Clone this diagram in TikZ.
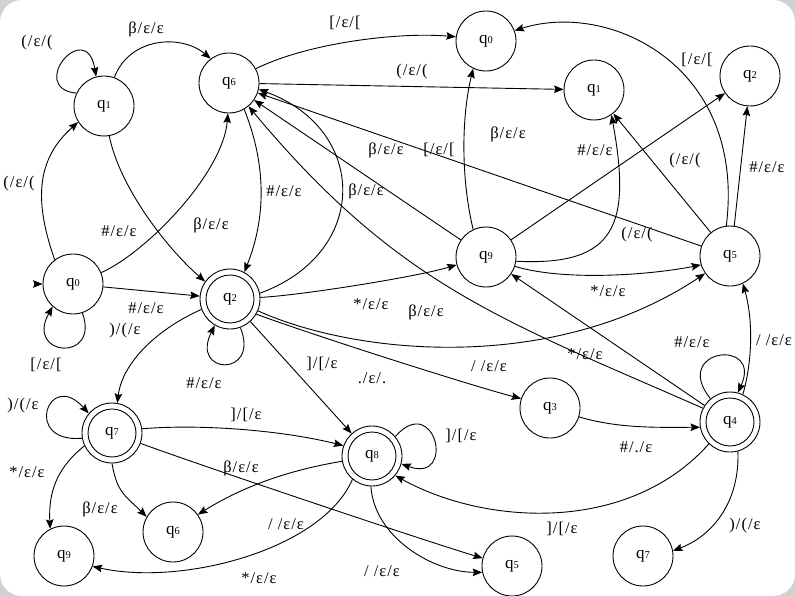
\documentclass[tikz,border=0pt]{standalone}
\usepackage{fontspec}
\setmainfont{Liberation Serif}
\newfontfamily\lblfamily[LetterSpace=6]{Liberation Serif}
\usetikzlibrary{arrows.meta}
\newcommand{\qlab}[1]{q{\fontsize{10.5}{10.5}\selectfont #1}}
\tikzset{
  state/.style={circle, draw, line width=0.9pt, minimum size=60pt, inner sep=0pt,
                font=\fontsize{17}{17}\selectfont},
  accring/.style={line width=0.9pt},
  arr/.style={line width=0.9pt, -{Stealth[length=9.5pt,width=7.5pt,inset=1.5pt]}},
  lbl/.style={inner sep=0pt, font=\lblfamily\fontsize{16.5}{17}\selectfont},
}
\begin{document}
\begin{tikzpicture}[x=1pt, y=-1pt]
  % frame
  \useasboundingbox (0,0) rectangle (795,596);
  \fill[black!18] (0,0) rectangle (795,596);
  \fill[white, rounded corners=22pt] (0,0) rectangle (795,596);

  % states
  \node[state] (q1a) at (104,106) {\qlab{1}};
  \node[state] (q6a) at (229,83)  {\qlab{6}};
  \node[state] (q0a) at (486,41)  {\qlab{0}};
  \node[state] (q1b) at (594,90)  {\qlab{1}};
  \node[state] (q2a) at (750,76)  {\qlab{2}};
  \node[state] (q0b) at (73,284)  {\qlab{0}};
  \node[state] (q2b) at (230,299) {\qlab{2}};
  \node[state] (q9a) at (486,257) {\qlab{9}};
  \node[state] (q5a) at (730,256) {\qlab{5}};
  \node[state] (q3)  at (550,408) {\qlab{3}};
  \node[state] (q4)  at (730,422) {\qlab{4}};
  \node[state] (q7a) at (112,433) {\qlab{7}};
  \node[state] (q8)  at (372,456) {\qlab{8}};
  \node[state] (q9b) at (64,556)  {\qlab{9}};
  \node[state] (q6b) at (173,532) {\qlab{6}};
  \node[state] (q5b) at (512,566) {\qlab{5}};
  \node[state] (q7b) at (643,556) {\qlab{7}};
  % accepting states: inner ring
  \foreach \n in {q2b,q4,q7a,q8}
    \draw[accring] (\n.center) circle[radius=24pt];

  % start marker
  \coordinate (init) at (34,284);
  \draw[arr] (init) -- (q0b);

  % transitions
  \draw[arr] (q1a.155) .. controls +(-50,-5) and +(-10,-60) .. (q1a.105);
  \draw[arr] (q1a.70) .. controls +(15,-40) and +(-30,-25) .. (q6a.127);
  \draw[arr] (q0b.127) .. controls +(-20,-57) and +(-43,38) .. (q1a.212);
  \draw[arr] (q1a.280) .. controls +(10,50) and +(-40,-35) .. (q2b.145);
  \draw[arr] (q0b.22) .. controls +(45,-20) and +(-5,60) .. (q6a.268);
  \draw[arr] (q0b) -- (q2b);
  \draw[arr] (q0b.288) .. controls +(18,50) and +(-28,50) .. (q0b.228);
  \draw[arr] (q6a.28) .. controls +(50,-25) and +(-60,-5) .. (q0a.172);
  \draw[arr] (q6a) -- (q1b);
  \draw[arr] (q6a.300) .. controls +(22,55) and +(22,-55) .. (q2b.62);
  \draw[arr] (q2b.11) .. controls +(110,-40) and +(110,40) .. (q6a.348);
  \draw[arr] (q2b.3) .. controls +(40,-2) and +(-40,12) .. (q9a.195);
  \draw[arr] (q2b.337) .. controls +(100,45) and +(-150,100) .. (q5a.215);
  \draw[arr] (q2b.330) .. controls +(60,22) and +(-50,-13) .. (q3.162);
  \draw[arr] (q2b) -- (q8);
  \draw[arr] (q2b.290) .. controls +(20,50) and +(-25,50) .. (q2b.240);
  \draw[arr] (q2b.200) .. controls +(-45,20) and +(5,-40) .. (q7a.80);
  \draw[arr] (q7a.190) .. controls +(-60,5) and +(-40,-45) .. (q7a.140);
  \draw[arr] (q7a.8) .. controls +(60,-5) and +(-60,-15) .. (q8.160);
  \draw[arr] (q7a.340) .. controls +(60,22) and +(-60,-18) .. (q5b.165);
  \draw[arr] (q7a.270) .. controls +(5,30) and +(-20,-20) .. (q6b.150);
  \draw[arr] (q7a.205) .. controls +(-25,20) and +(-2,-40) .. (q9b.117);
  \draw[arr] (q8.40) .. controls +(40,-45) and +(55,20) .. (q8.345);
  \draw[arr] (q8.190) .. controls +(-60,10) and +(40,-25) .. (q6b.35);
  \draw[arr] (q8.230) .. controls +(-30,70) and +(90,20) .. (q9b.340);
  \draw[arr] (q8.268) .. controls +(3,50) and +(-50,0) .. (q5b.192);
  \draw[arr] (q3.343) .. controls +(40,12) and +(-40,0) .. (q4.190);
  \draw[arr] (q4.226) .. controls +(-80,90) and +(90,50) .. (q8.320);
  \draw[arr] (q4.285) .. controls +(2,50) and +(40,-15) .. (q7b.10);
  \draw[arr] (q4.130) .. controls +(-40,-50) and +(25,-55) .. (q4.75);
  \draw[arr] (q4.65) .. controls +(10,-35) and +(10,35) .. (q5a.295);
  \draw[arr] (q4.147) -- (q9a.326);
  \draw[arr] (q4.153) .. controls +(-200,-88) and +(150,180) .. (q6a.310);
  \draw[arr] (q9a.342) .. controls +(50,15) and +(-50,10) .. (q5a.197);
  \draw[arr] (q9a.352) .. controls +(100,5) and +(20,110) .. (q1b.305);
  \draw[arr] (q9a) -- (q2a);
  \draw[arr] (q9a) -- (q6a);
  \draw[arr] (q9a.115) .. controls +(-12,-50) and +(-12,50) .. (q0a.245);
  \draw[arr] (q5a) -- (q1b);
  \draw[arr] (q5a) -- (q6a);
  \draw[arr] (q5a.82) -- (q2a.265);
  \draw[arr] (q5a.97) .. controls +(20,-160) and +(95,-30) .. (q0a.20);

  % transition labels
  \node[lbl] (t1)  at (37,43)   {(/ε/(};
  \node[lbl] (t2)  at (146,29)  {β/ε/ε};
  \node[lbl] (t3)  at (345,23)  {[/ε/[};
  \node[lbl] (t4)  at (412,72)  {(/ε/(};
  \node[lbl] (t5)  at (697,60)  {[/ε/[};
  \node[lbl] (t6)  at (19,184)  {(/ε/(};
  \node[lbl] (t7)  at (119,231) {\#/ε/ε};
  \node[lbl] (t8)  at (211,225) {β/ε/ε};
  \node[lbl] (t9)  at (284,191) {\#/ε/ε};
  \node[lbl] (t10) at (366,191) {β/ε/ε};
  \node[lbl] (t11) at (386,150) {β/ε/ε};
  \node[lbl] (t12) at (439,150) {[/ε/[};
  \node[lbl] (t13) at (508,134) {β/ε/ε};
  \node[lbl] (t14) at (595,150) {\#/ε/ε};
  \node[lbl] (t15) at (685,161) {(/ε/(};
  \node[lbl] (t16) at (767,167) {\#/ε/ε};
  \node[lbl] (t17) at (637,235) {(/ε/(};
  \node[lbl] (t18) at (146,308) {\#/ε/ε};
  \node[lbl] (t19) at (125,331) {)/(/ε};
  \node[lbl] (t20) at (46,365)  {[/ε/[};
  \node[lbl] (t21) at (371,304) {*/ε/ε};
  \node[lbl] (t22) at (426,312) {β/ε/ε};
  \node[lbl] (t23) at (608,291) {*/ε/ε};
  \node[lbl] (t24) at (585,354) {*/ε/ε};
  \node[lbl] (t25) at (692,342) {\#/ε/ε};
  \node[lbl] (t26) at (774,340) {/ /ε/ε};
  \node[lbl] (t27) at (204,383) {\#/ε/ε};
  \node[lbl] (t28) at (322,364) {]/[/ε};
  \node[lbl] (t29) at (372,378) {./ε/.};
  \node[lbl] (t30) at (489,366) {/ /ε/ε};
  \node[lbl] (t31) at (636,447) {\#/./ε};
  \node[lbl] (t32) at (23,406)  {)/(/ε};
  \node[lbl] (t33) at (246,415) {]/[/ε};
  \node[lbl] (t34) at (27,472)  {*/ε/ε};
  \node[lbl] (t35) at (100,509) {β/ε/ε};
  \node[lbl] (t36) at (241,468) {β/ε/ε};
  \node[lbl] (t37) at (286,524) {/ /ε/ε};
  \node[lbl] (t38) at (259,578) {*/ε/ε};
  \node[lbl] (t39) at (461,436) {]/[/ε};
  \node[lbl] (t40) at (382,571) {/ /ε/ε};
  \node[lbl] (t41) at (562,529) {]/[/ε};
  \node[lbl] (t42) at (745,526) {)/(/ε};
\end{tikzpicture}
\end{document}
